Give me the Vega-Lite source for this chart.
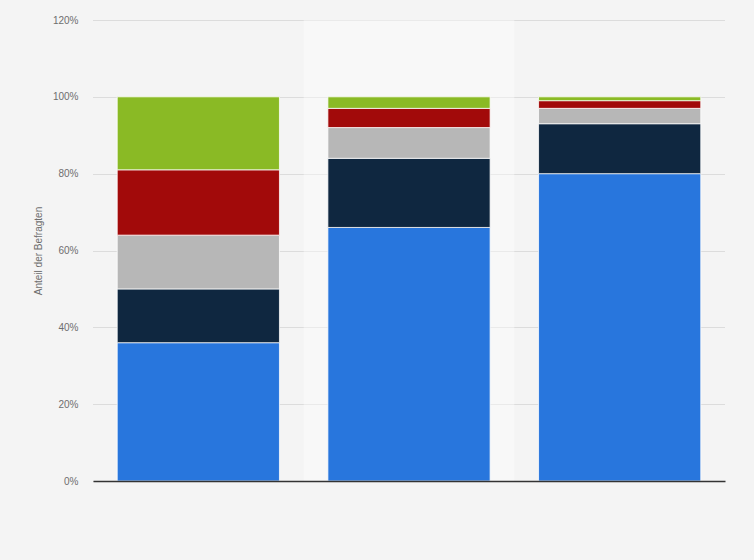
{
  "$schema": "https://vega.github.io/schema/vega-lite/v6.json",
  "width": 632,
  "height": 461,
  "autosize": "none",
  "padding": {"left": 93, "top": 20, "right": 29, "bottom": 79},
  "background": "#f4f4f4",
  "config": {
    "view": {"stroke": null},
    "font": "Liberation Sans"
  },
  "data": {
    "values": [
      {"gruppe": "Gruppe A", "antwort": "Antwort 1", "rang": 1, "anteil": 0.36},
      {"gruppe": "Gruppe A", "antwort": "Antwort 2", "rang": 2, "anteil": 0.14},
      {"gruppe": "Gruppe A", "antwort": "Antwort 3", "rang": 3, "anteil": 0.14},
      {"gruppe": "Gruppe A", "antwort": "Antwort 4", "rang": 4, "anteil": 0.17},
      {"gruppe": "Gruppe A", "antwort": "Antwort 5", "rang": 5, "anteil": 0.19},
      {"gruppe": "Gruppe B", "antwort": "Antwort 1", "rang": 1, "anteil": 0.66},
      {"gruppe": "Gruppe B", "antwort": "Antwort 2", "rang": 2, "anteil": 0.18},
      {"gruppe": "Gruppe B", "antwort": "Antwort 3", "rang": 3, "anteil": 0.08},
      {"gruppe": "Gruppe B", "antwort": "Antwort 4", "rang": 4, "anteil": 0.05},
      {"gruppe": "Gruppe B", "antwort": "Antwort 5", "rang": 5, "anteil": 0.03},
      {"gruppe": "Gruppe C", "antwort": "Antwort 1", "rang": 1, "anteil": 0.80},
      {"gruppe": "Gruppe C", "antwort": "Antwort 2", "rang": 2, "anteil": 0.13},
      {"gruppe": "Gruppe C", "antwort": "Antwort 3", "rang": 3, "anteil": 0.04},
      {"gruppe": "Gruppe C", "antwort": "Antwort 4", "rang": 4, "anteil": 0.02},
      {"gruppe": "Gruppe C", "antwort": "Antwort 5", "rang": 5, "anteil": 0.01}
    ]
  },
  "encoding": {
    "x": {
      "field": "gruppe",
      "type": "nominal",
      "scale": {"paddingInner": 0.23, "paddingOuter": 0.115},
      "axis": {
        "title": null,
        "labels": false,
        "ticks": false,
        "grid": false,
        "domain": true,
        "domainColor": "#333333",
        "domainWidth": 1.5,
        "zindex": 1
      }
    }
  },
  "layer": [
    {
      "transform": [{"filter": "datum.gruppe == 'Gruppe B' && datum.rang == 1"}],
      "mark": {"type": "bar", "color": "#ffffff", "opacity": 0.4, "width": {"band": 1.2987}},
      "encoding": {
        "y": {"datum": 1.2, "type": "quantitative", "stack": null}
      }
    },
    {
      "mark": {"type": "bar", "stroke": "#ffffff", "strokeWidth": 1, "strokeOpacity": 0.75},
      "encoding": {
        "y": {
          "field": "anteil",
          "type": "quantitative",
          "stack": "zero",
          "scale": {"domain": [0, 1.2], "nice": false},
          "axis": {
            "title": "Anteil der Befragten",
            "titleFontSize": 10,
            "titleFontWeight": "normal",
            "titleColor": "#6e6e6e",
            "titlePadding": 9,
            "format": "%",
            "values": [0, 0.2, 0.4, 0.6, 0.8, 1, 1.2],
            "labelFontSize": 10,
            "labelColor": "#6e6e6e",
            "labelPadding": 15,
            "ticks": false,
            "domain": false,
            "grid": true,
            "gridColor": "#c4c4c4",
            "gridDash": [1, 1],
            "gridWidth": 1
          }
        },
        "color": {
          "field": "antwort",
          "type": "nominal",
          "legend": null,
          "scale": {
            "domain": ["Antwort 1", "Antwort 2", "Antwort 3", "Antwort 4", "Antwort 5"],
            "range": ["#2876dd", "#0f2740", "#b7b7b7", "#a20a0a", "#8aba25"]
          }
        },
        "order": {"field": "rang", "type": "quantitative", "sort": "ascending"}
      }
    }
  ]
}
